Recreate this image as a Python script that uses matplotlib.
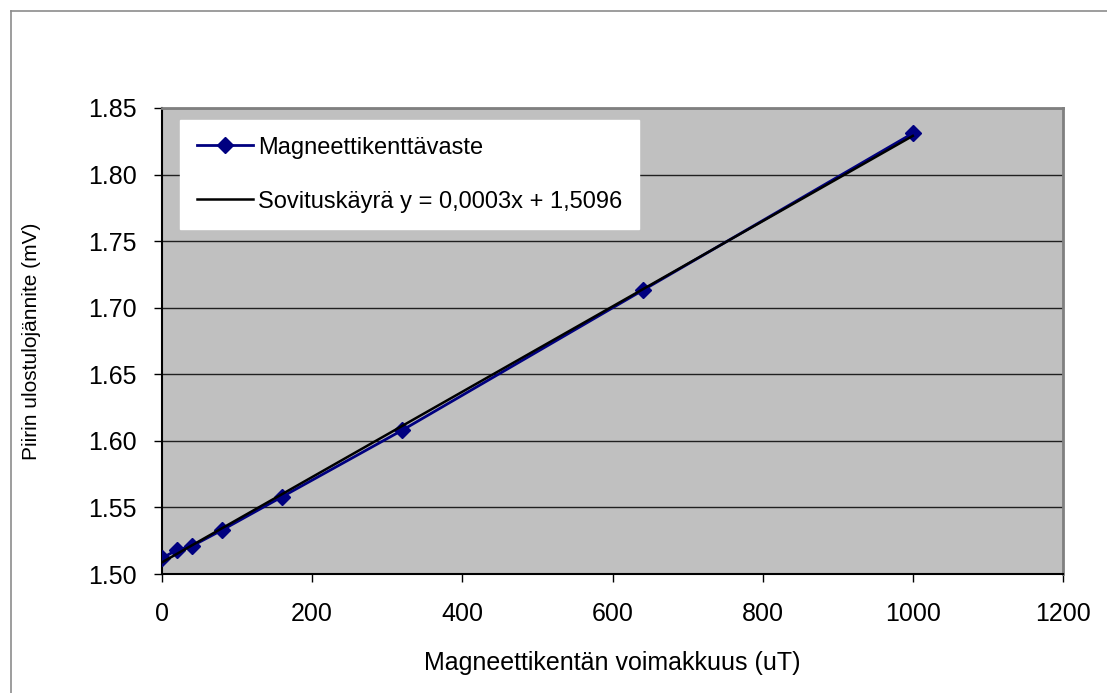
import numpy as np
import matplotlib
matplotlib.use("Agg")
import matplotlib.pyplot as plt
from matplotlib.lines import Line2D

plt.rcParams['font.family'] = ['Liberation Sans', 'DejaVu Sans']

# data
field_uT = [0, 20, 40, 80, 160, 320, 640, 1000]
voltage_mV = [1.512, 1.518, 1.521, 1.533, 1.558, 1.608, 1.713, 1.831]
series_label = 'Magneettikenttävaste'
fit_label = 'Sovituskäyrä y = 0,0003x + 1,5096'
xticks = [0, 200, 400, 600, 800, 1000, 1200]
yticks = [1.50, 1.55, 1.60, 1.65, 1.70, 1.75, 1.80, 1.85]

# linear trend from the data
slope, icpt = np.polyfit(field_uT, voltage_mV, 1)
fit_x = np.array([0, 1000])
fit_y = slope * fit_x + icpt

fig = plt.figure(figsize=(11.07, 6.93), dpi=100)
# outer chart border (left and top only visible)
bx, by = 11 / 1107, 1 - 11 / 693
fig.lines.append(Line2D([bx, bx], [0, by], transform=fig.transFigure,
                        color='#8c8c8c', lw=1.2))
fig.lines.append(Line2D([bx, 1], [by, by], transform=fig.transFigure,
                        color='#8c8c8c', lw=1.2))

ax = fig.add_axes([162 / 1107, 1 - 574 / 693, 901 / 1107, 466 / 693])
ax.set_facecolor('#c0c0c0')

ax.plot(field_uT, voltage_mV, color='#000080', lw=2, marker='D',
        markersize=8.5, label=series_label, zorder=3)
ax.plot(fit_x, fit_y, color='black', lw=1.8, label=fit_label, zorder=4)

ax.set_xlim(0, 1200)
ax.set_ylim(1.50, 1.85)
ax.set_xticks(xticks)
ax.set_yticks(yticks)
ax.set_yticklabels(['%.2f' % v for v in yticks])
ax.yaxis.grid(True, color='#202020', lw=1)
ax.set_axisbelow(True)
ax.tick_params(labelsize=18, length=6, width=1, direction='out')
ax.tick_params(axis='x', pad=14)
ax.tick_params(axis='y', pad=12)

for side in ['top', 'right']:
    ax.spines[side].set_color('#808080')
    ax.spines[side].set_linewidth(2)
for side in ['left', 'bottom']:
    ax.spines[side].set_color('black')
    ax.spines[side].set_linewidth(1.5)

ax.set_xlabel('Magneettikentän voimakkuus (uT)', fontsize=18, labelpad=18)
ax.set_ylabel('Piirin ulostulojännite (mV)', fontsize=15, labelpad=34)

leg = ax.legend(loc='upper left', bbox_to_anchor=(0.02, 0.974), fontsize=17,
                frameon=True, fancybox=False, framealpha=1, facecolor='white',
                edgecolor='white', handlelength=2.4, labelspacing=1.35,
                borderpad=0.7, handletextpad=0.2, borderaxespad=0)

fig.savefig('out.png', dpi=100)
